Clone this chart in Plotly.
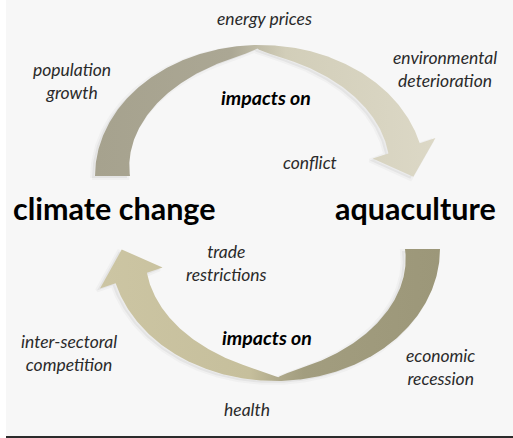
import numpy as np
import plotly.graph_objects as go

# ---- content ----
node_labels = ["climate change", "aquaculture"]
link_labels = ["impacts on", "impacts on"]
factor_labels = [
    "energy prices",
    "population<br>growth",
    "environmental<br>deterioration",
    "conflict",
    "trade<br>restrictions",
    "inter-sectoral<br>competition",
    "economic<br>recession",
    "health",
]

# ---- layout (positions in pixel space) ----
W, H = 513, 438
node_pos = [(114, 208), (415, 208)]
link_pos = [(266, 97), (267, 337)]
factor_pos = [(264, 18), (72, 81), (445, 69), (310, 162),
              (226, 263), (69, 353), (440, 367), (247, 409)]

FONT = "Lato, 'Open Sans', sans-serif"


def arrow_polygon(cx, cy, a, b, t0, tmid, t1, w0, wmid, w1, sy, hw, hl):
    t0, tmid, t1 = np.radians([t0, tmid, t1])
    t = np.linspace(t0, t1, 300)
    w = np.empty_like(t)
    first = (t - tmid) * np.sign(t0 - tmid) >= 0
    s1 = np.abs(t - tmid) / abs(t0 - tmid)
    s2 = np.abs(t - tmid) / abs(t1 - tmid)
    w[first] = wmid + (w0 - wmid) * s1[first] ** 0.6
    w[~first] = wmid + (w1 - wmid) * s2[~first] ** 0.6
    ox = cx + a * np.cos(t)
    oy = cy + sy * b * np.sin(t)
    nx = b * np.cos(t)
    ny = sy * a * np.sin(t)
    nn = np.hypot(nx, ny)
    nx, ny = nx / nn, ny / nn
    ix = ox - w * nx
    iy = oy - w * ny
    # arrow head at the end
    cxe = ox[-1] - w[-1] / 2 * nx[-1]
    cye = oy[-1] - w[-1] / 2 * ny[-1]
    dx = -a * np.sin(t[-1]) * np.sign(t1 - t0)
    dy = sy * b * np.cos(t[-1]) * np.sign(t1 - t0)
    dn = np.hypot(dx, dy)
    dx, dy = dx / dn, dy / dn
    hx = [cxe + hw * nx[-1], cxe + hl * dx, cxe - hw * nx[-1]]
    hy = [cye + hw * ny[-1], cye + hl * dy, cye - hw * ny[-1]]
    xs = np.concatenate([ox, hx, ix[::-1], [ox[0]]])
    ys = np.concatenate([oy, hy, iy[::-1], [oy[0]]])
    return xs, ys


top = arrow_polygon(260, 176, 165, 131, 180, 91, 14.5, 35, 3, 33, -1, 33, 30)
bot = arrow_polygon(275, 249, 165, 132, 0, 89, 165, 35, 3, 33, +1, 33, 30)

fig = go.Figure()

# soft shadows
for xs, ys in (top, bot):
    fig.add_trace(go.Scatter(x=xs - 3, y=ys + 2, mode="lines", fill="toself",
                             fillcolor="rgba(80,80,80,0.07)",
                             line=dict(color="rgba(80,80,80,0.04)", width=4),
                             hoverinfo="skip", showlegend=False))

fig.add_trace(go.Scatter(
    x=top[0], y=top[1], mode="lines", fill="toself", line=dict(width=0, color="rgba(0,0,0,0)"),
    fillgradient=dict(type="horizontal",
                      colorscale=[[0, "#a6a28e"], [0.40, "#aba794"], [0.48, "#c0bca7"],
                                  [0.56, "#d2ceb9"], [1, "#dcd8c6"]]),
    hoverinfo="skip", showlegend=False))

fig.add_trace(go.Scatter(
    x=bot[0], y=bot[1], mode="lines", fill="toself", line=dict(width=0, color="rgba(0,0,0,0)"),
    fillgradient=dict(type="horizontal",
                      colorscale=[[0, "#ccc5a3"], [0.44, "#c6bf9c"], [0.52, "#b0aa8c"],
                                  [0.60, "#a29d7f"], [1, "#9c9779"]]),
    hoverinfo="skip", showlegend=False))

ann = []
for lab, (x, y) in zip(node_labels, node_pos):
    ann.append(dict(x=x, y=y, text="<b>%s</b>" % lab, showarrow=False,
                    font=dict(family=FONT, size=30.5, color="#000000")))
for lab, (x, y) in zip(link_labels, link_pos):
    ann.append(dict(x=x, y=y, text="<b><i>%s</i></b>" % lab, showarrow=False,
                    font=dict(family=FONT, size=19.5, color="#000000")))
for lab, (x, y) in zip(factor_labels, factor_pos):
    ann.append(dict(x=x, y=y, text="<i>%s</i>" % lab, showarrow=False,
                    font=dict(family=FONT, size=17.5, color="#2a2a2a")))

fig.update_layout(
    width=W, height=H,
    margin=dict(l=0, r=0, t=0, b=0),
    paper_bgcolor="#ffffff", plot_bgcolor="#ffffff",
    xaxis=dict(range=[0, W], visible=False, fixedrange=True),
    yaxis=dict(range=[H, 0], visible=False, fixedrange=True),
    annotations=ann,
    hovermode=False,
    shapes=[
        dict(type="rect", xref="x", yref="y", x0=6, x1=W, y0=0, y1=436,
             fillcolor="#f7f7f7", line=dict(width=0), layer="below"),
        dict(type="line", xref="x", yref="y", x0=6, x1=W, y0=437, y1=437,
             line=dict(color="#2b2b2b", width=2), layer="above"),
    ],
)

fig.write_html("out.html",
               config={"displayModeBar": False, "staticPlot": True},
               post_script="document.body.style.margin='0px';document.body.style.overflow='hidden';")
